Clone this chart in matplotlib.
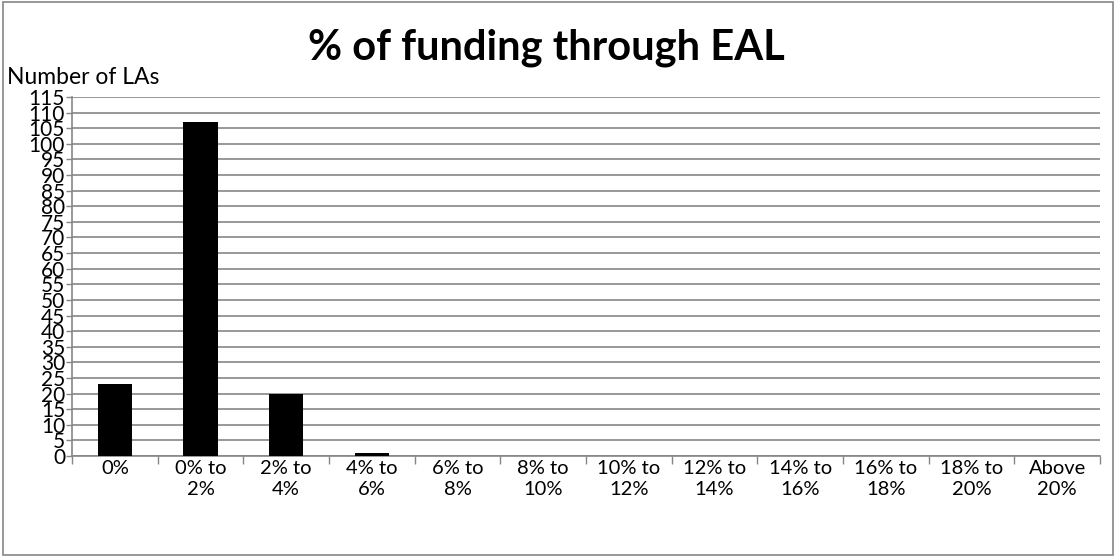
import numpy as np
import matplotlib.pyplot as plt
from matplotlib.patches import Rectangle

categories = ["0%", "0% to\n2%", "2% to\n4%", "4% to\n6%", "6% to\n8%", "8% to\n10%",
              "10% to\n12%", "12% to\n14%", "14% to\n16%", "16% to\n18%", "18% to\n20%", "Above\n20%"]
counts = [23, 107, 20, 1, 0, 0, 0, 0, 0, 0, 0, 0]
y_ticks = list(range(0, 120, 5))

plt.rcParams["font.family"] = ["Lato", "DejaVu Sans"]

fig = plt.figure(figsize=(11.16, 5.57), dpi=100)
fig.patches.append(Rectangle((0.003, 0.003), 0.994, 0.994, transform=fig.transFigure,
                             fill=False, edgecolor="#868686", linewidth=1.2))

ax = fig.add_axes([72 / 1116, 1 - 456 / 557, (1100 - 72) / 1116, (456 - 97) / 557])
x = np.arange(len(categories))
ax.bar(x, counts, width=0.4, color="black", zorder=3)

ax.set_xlim(-0.5, len(categories) - 0.5)
ax.set_ylim(0, 115)
ax.set_yticks(y_ticks)
ax.set_yticklabels([str(v) for v in y_ticks], fontsize=15)
ax.grid(True, axis="y", color="#868686", linewidth=1.2, zorder=0)
ax.tick_params(axis="y", length=4, width=1, color="#868686", pad=1)

ax.set_xticks(x)
ax.set_xticklabels(categories, fontsize=14.5, va="top", linespacing=1.25)
ax.tick_params(axis="x", length=0, pad=3)
ax.set_xticks(np.arange(-0.5, len(categories), 1), minor=True)
ax.tick_params(axis="x", which="minor", length=6, width=1, color="#868686")

for side in ["top", "right"]:
    ax.spines[side].set_visible(False)
for side in ["left", "bottom"]:
    ax.spines[side].set_color("#868686")
    ax.spines[side].set_linewidth(1.2)

fig.text(0.49, 1 - 48 / 557, "% of funding through EAL", ha="center", va="center",
         fontsize=30, fontweight="bold")
fig.text(7 / 1116, 1 - 78 / 557, "Number of LAs", ha="left", va="center", fontsize=16.5)

fig.savefig("out.png", dpi=100)
